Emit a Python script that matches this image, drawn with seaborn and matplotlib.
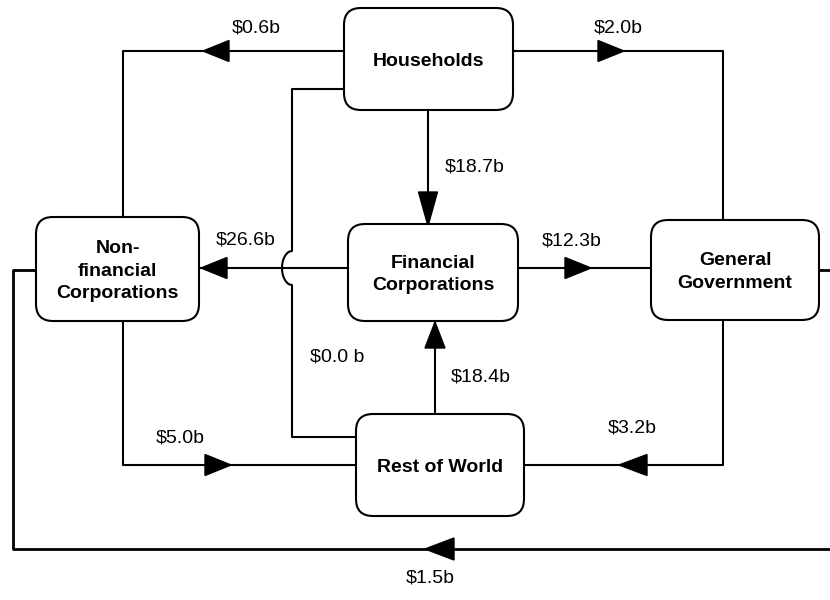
import numpy as np
import matplotlib
matplotlib.use("Agg")
import matplotlib.pyplot as plt
from matplotlib.patches import FancyBboxPatch, Polygon
import seaborn as sns

# sectors (boxes) and flows between them
sectors = ["Households", "Financial\nCorporations", "Non-\nfinancial\nCorporations",
           "General\nGovernment", "Rest of World"]
flow_labels = ["$0.6b", "$2.0b", "$18.7b", "$26.6b", "$12.3b",
               "$0.0 b", "$18.4b", "$5.0b", "$3.2b", "$1.5b"]
flow_from = ["Households", "Households", "Households", "Financial\nCorporations",
             "Financial\nCorporations", "Households", "Rest of World",
             "Non-\nfinancial\nCorporations", "General\nGovernment", "General\nGovernment"]

# layout in pixel units (x0, y0, x1, y1)
box_pos = {
    "Households": (344, 8, 513, 110),
    "Financial\nCorporations": (348, 224, 518, 321),
    "Non-\nfinancial\nCorporations": (36, 217, 199, 321),
    "General\nGovernment": (651, 220, 819, 320),
    "Rest of World": (356, 414, 524, 516),
}


def hop_path():
    # $0.0b line, with a little jump over the $26.6b line
    t = np.linspace(0, np.pi, 17)
    ax_x = 292 - 10 * np.sin(t)
    ax_y = 251 + 17 * (1 - np.cos(t))
    xs = [344, 292, 292] + list(ax_x) + [292, 292, 356]
    ys = [89, 89, 246] + list(ax_y) + [290, 437, 437]
    return xs, ys


paths = [
    ([344, 123, 123], [51, 51, 217]),
    ([513, 723, 723], [51, 51, 220]),
    ([428, 428], [110, 224]),
    ([348, 199], [268, 268]),
    ([518, 651], [268, 268]),
    hop_path(),
    ([435, 435], [414, 321]),
    ([123, 123, 356], [321, 465, 465]),
    ([723, 723, 524], [320, 465, 465]),
    ([819, 845, 845, 13, 13, 36], [270, 270, 549, 549, 270, 270]),
]
# arrow tip, direction, length, half width
arrows = [
    ((203, 51), "left", 26, 10.5),
    ((624, 51), "right", 26, 10.5),
    ((428, 226), "down", 34, 9.5),
    ((201, 268), "left", 26, 10.5),
    ((591, 268), "right", 26, 10.5),
    None,
    ((435, 322), "up", 26, 10),
    ((231, 465), "right", 26, 10.5),
    ((619, 465), "left", 28, 10.5),
    ((425, 549), "left", 29, 11),
]
label_pos = [(256, 28), (618, 28), (475, 167), (246, 240), (572, 241),
             (337, 357), (481, 377), (180, 438), (632, 428), (430, 578)]
path_lw = [1.5] * 9 + [2.0]

sns.set_theme(style="white")
plt.rcParams["font.family"] = ["Liberation Sans", "DejaVu Sans"]

fig = plt.figure(figsize=(8.3, 6), dpi=100)
ax = fig.add_axes([0, 0, 1, 1])
ax.set_xlim(0, 830)
ax.set_ylim(600, 0)
ax.axis("off")

for (xs, ys), lw in zip(paths, path_lw):
    sns.lineplot(x=xs, y=ys, sort=False, estimator=None, color="black",
                 linewidth=lw, ax=ax)

for a in arrows:
    if a is None:
        continue
    (tx, ty), d, ln, hw = a
    if d == "left":
        pts = [(tx, ty), (tx + ln, ty - hw), (tx + ln, ty + hw)]
    elif d == "right":
        pts = [(tx, ty), (tx - ln, ty - hw), (tx - ln, ty + hw)]
    elif d == "down":
        pts = [(tx, ty), (tx - hw, ty - ln), (tx + hw, ty - ln)]
    else:
        pts = [(tx, ty), (tx - hw, ty + ln), (tx + hw, ty + ln)]
    ax.add_patch(Polygon(pts, closed=True, color="black", zorder=4))

for name in sectors:
    x0, y0, x1, y1 = box_pos[name]
    ax.add_patch(FancyBboxPatch((x0, y0), x1 - x0, y1 - y0,
                                boxstyle="round,pad=0,rounding_size=17",
                                facecolor="white", edgecolor="black",
                                linewidth=1.5, zorder=5))
    ax.text((x0 + x1) / 2, (y0 + y1) / 2 + 2, name, ha="center", va="center",
            fontsize=14, fontweight="bold", linespacing=1.4, color="black",
            zorder=6)

for lab, (lx, ly) in zip(flow_labels, label_pos):
    ax.text(lx, ly, lab, ha="center", va="center", fontsize=14, color="black")

fig.savefig("out.png", dpi=100, facecolor="white")
